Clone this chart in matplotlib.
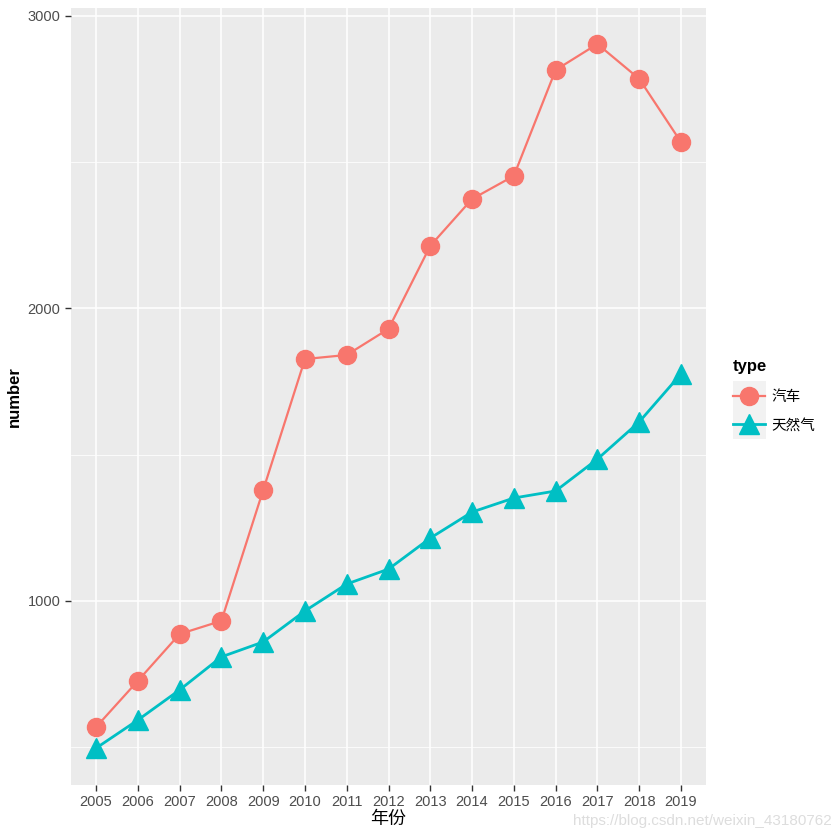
import numpy as np
import matplotlib.pyplot as plt
from matplotlib.lines import Line2D
from matplotlib.patches import Rectangle

plt.rcParams['font.family'] = ['Liberation Sans', 'Noto Sans CJK SC']

years = [2005, 2006, 2007, 2008, 2009, 2010, 2011, 2012, 2013, 2014, 2015, 2016, 2017, 2018, 2019]
car = [569, 727, 887, 932, 1379, 1827, 1841, 1930, 2214, 2374, 2453, 2815, 2904, 2785, 2569]
gas = [497, 593, 696, 809, 860, 966, 1058, 1109, 1215, 1304, 1352, 1376, 1485, 1612, 1776]
labels = ['汽车', '天然气']
red = '#F8766D'
teal = '#00BFC4'

fig = plt.figure(figsize=(8.4, 8.4), dpi=100)
ax = fig.add_axes([71/840, 55/840, 635/840, 777/840])
ax.set_facecolor('#EBEBEB')

x = np.arange(len(years))
ax.plot(x, car, color=red, lw=1.6, marker='o', ms=13, mec=red, zorder=3)
ax.plot(x, gas, color=teal, lw=2.0, marker='^', ms=15, mec=teal, zorder=3)

ax.set_xlim(-0.6, len(years) - 0.4)
ax.set_ylim(371, 3027)
ax.set_xticks(x)
ax.set_xticklabels([str(y) for y in years])
ax.set_yticks([1000, 2000, 3000])
ax.set_yticks([500, 1500, 2500], minor=True)
ax.grid(True, which='major', color='white', lw=1.1)
ax.grid(True, which='minor', axis='y', color='white', lw=0.55)
ax.set_axisbelow(True)
for s in ax.spines.values():
    s.set_visible(False)
ax.tick_params(axis='both', which='major', colors='#333333', labelcolor='#4D4D4D', labelsize=10.5, length=4, width=1)
ax.tick_params(axis='y', which='minor', length=0)
ax.set_xlabel('年份', fontsize=13, labelpad=1)
ax.set_ylabel('number', fontsize=12, fontweight='bold', labelpad=4)

# legend
fig.patches.append(Rectangle((733/840, 1 - 439/840), 33/840, 58/840, transform=fig.transFigure,
                             facecolor='#F2F2F2', edgecolor='none', zorder=0))
fig.text(733/840, 1 - 366/840, 'type', fontsize=12, fontweight='bold', ha='left', va='center')
handles = [Line2D([], [], color=red, lw=1.6, marker='o', ms=13),
           Line2D([], [], color=teal, lw=2.0, marker='^', ms=15)]
leg = fig.legend(handles, labels, loc='upper left', bbox_to_anchor=(733/840, 1 - 390/840),
                 frameon=False, fontsize=10.5, handlelength=2.2, borderpad=0,
                 labelspacing=1.0, handletextpad=0.45, borderaxespad=0)

fig.text(832/840, 1 - 821/840, 'https://blog.csdn.net/weixin_43180762', ha='right', va='center',
         fontsize=11, color='#DDDDDD')

fig.savefig('out.png', dpi=100)
